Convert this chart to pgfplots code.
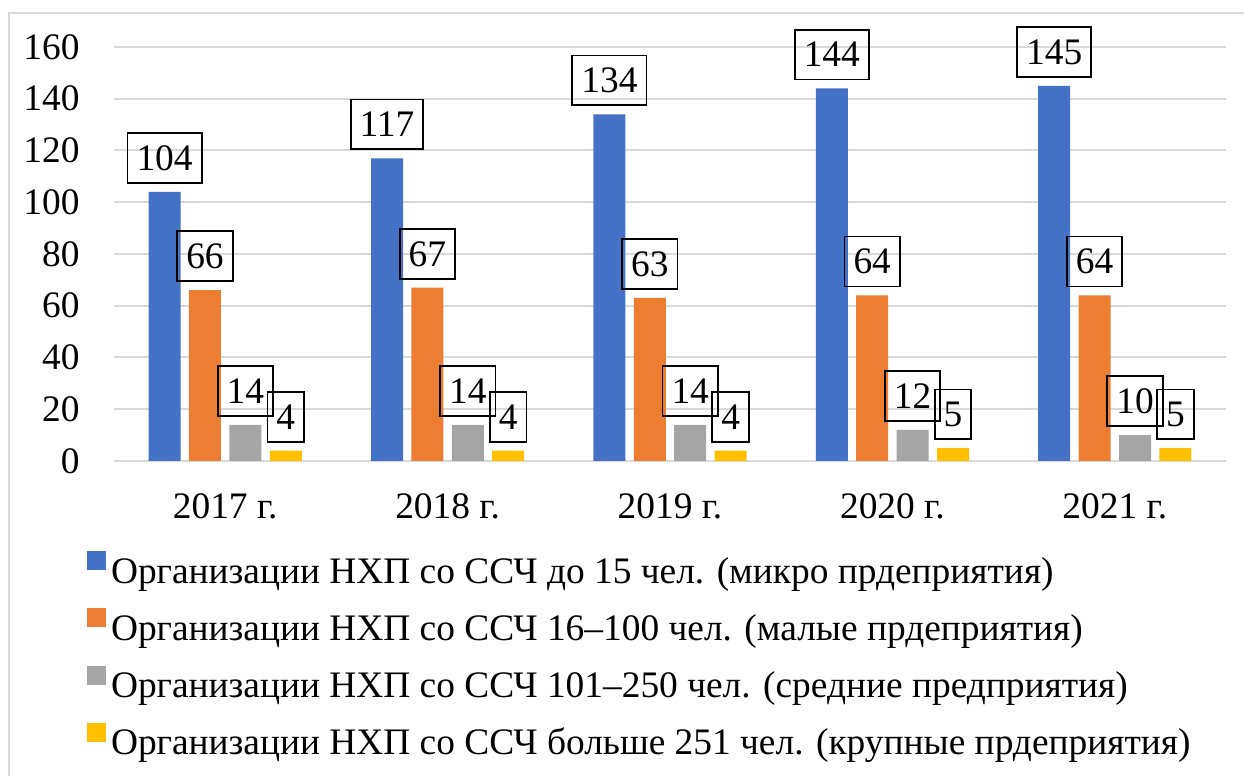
\documentclass[border=0pt]{standalone}
\usepackage{pgfplots}
\pgfplotsset{compat=1.18}
\usepackage{fontspec}
\setmainfont{Liberation Serif}[Ligatures=TeX]
\definecolor{cBlue}{HTML}{4472C4}
\definecolor{cOrange}{HTML}{ED7D31}
\definecolor{cGray}{HTML}{A5A5A5}
\definecolor{cYellow}{HTML}{FFC000}
\definecolor{cGrid}{HTML}{D9D9D9}
\begin{document}
\begin{tikzpicture}
\useasboundingbox (0,0) rectangle (622pt,388pt);
\draw[cGrid, line width=1pt] (4.25pt,0pt) -- (4.25pt,381.5pt) -- (622pt,381.5pt);
\begin{axis}[
  at={(57pt,157.5pt)}, anchor=south west,
  scale only axis, width=556pt, height=207pt,
  font=\fontsize{18.7}{22}\selectfont,
  /pgf/number format/assume math mode=true,
  ybar=4.2pt, bar width=16pt,
  xmin=-0.5, xmax=4.5, ymin=0, ymax=160,
  enlargelimits=false, clip=false,
  xtick=data,
  xticklabels={2017 г., 2018 г., 2019 г., 2020 г., 2021 г.},
  ytick={0,20,...,160},
  ymajorgrids, grid style={cGrid, line width=1pt},
  axis line style={draw=none},
  major tick length=0pt,
  yticklabel style={inner sep=0pt, anchor=east, xshift=-17pt},
  xticklabel style={inner sep=0pt, anchor=north, yshift=-16pt},
  nodes near coords,
  nodes near coords style={draw=black, line width=0.9pt, inner xsep=4.5pt, inner ysep=6.3pt, text depth=0pt, yshift=4pt, anchor=south, font=\fontsize{18.7}{22}\selectfont},
  legend style={at={(rel axis cs:0,0)}, anchor=north west, xshift=-13.5pt, yshift=-45pt, draw=none, fill=none, inner sep=0pt, row sep=11.2pt, nodes={inner sep=0pt}, font=\fontsize{18.7}{22}\selectfont},
  legend cell align=left,
  legend image code/.code={\fill[#1] (0pt,0.6pt) rectangle (9.5pt,10.1pt); \path (11.8pt,0pt);},
]
\addplot[fill=cBlue, draw=none] coordinates {(0,104) (1,117) (2,134) (3,144) (4,145)};
\addplot[fill=cOrange, draw=none] coordinates {(0,66) (1,67) (2,63) (3,64) (4,64)};
\addplot[fill=cGray, draw=none] coordinates {(0,14) (1,14) (2,14) (3,12) (4,10)};
\addplot[fill=cYellow, draw=none] coordinates {(0,4) (1,4) (2,4) (3,5) (4,5)};
\legend{Организации НХП со ССЧ до 15 чел. (микро прдеприятия),
Организации НХП со ССЧ 16–100 чел. (малые прдеприятия),
Организации НХП со ССЧ 101–250 чел. (средние предприятия),
Организации НХП со ССЧ больше 251 чел. (крупные прдеприятия)}
\end{axis}
\end{tikzpicture}
\end{document}
